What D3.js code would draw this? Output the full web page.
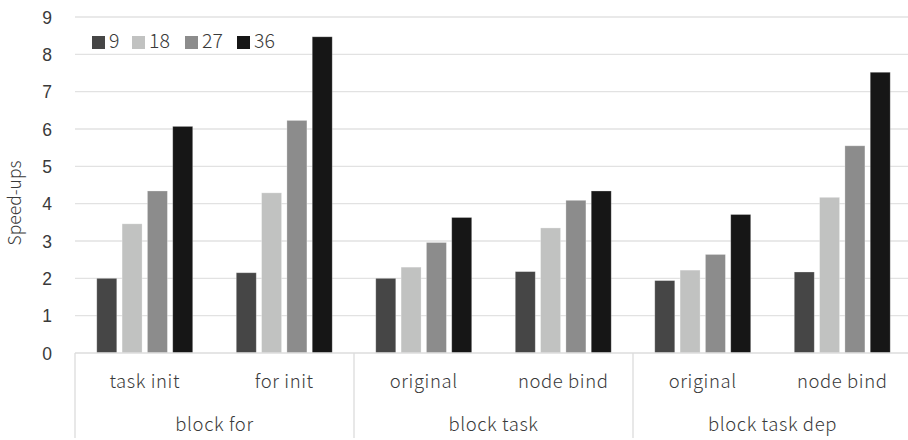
<!DOCTYPE html>
<html>
<head>
<meta charset="utf-8">
<script src="https://cdn.jsdelivr.net/npm/d3@7"></script>
<style>
  body { margin: 0; background: #fff; }
  svg { display: block; font-family: 'Noto Sans CJK JP', 'Noto Sans', sans-serif; font-weight: 300; }
  .tick text, .lbl { fill: #3a3a3a; }
</style>
</head>
<body>
<svg id="chart" width="908" height="440"></svg>
<script>
// data
const groups = ['block for', 'block task', 'block task dep']
const subCategories = ['task init', 'for init', 'original', 'node bind', 'original', 'node bind']
const subGroup = [0, 0, 1, 1, 2, 2]
const seriesNames = ['9', '18', '27', '36']
const seriesColors = ['#464646', '#c1c2c1', '#8c8c8c', '#161616']
const s9 = [2.00, 2.15, 2.00, 2.18, 1.94, 2.17]
const s18 = [3.46, 4.29, 2.30, 3.35, 2.22, 4.17]
const s27 = [4.34, 6.23, 2.96, 4.09, 2.64, 5.55]
const s36 = [6.07, 8.47, 3.63, 4.34, 3.71, 7.52]
const series = [s9, s18, s27, s36]
const yTicks = [0, 1, 2, 3, 4, 5, 6, 7, 8, 9]

const svg = d3.select('#chart')
const plotLeft = 75
const plotRight = 912
const plotTop = 17
const plotBottom = 353

const x0 = d3.scaleBand()
  .domain(d3.range(subCategories.length))
  .range([plotLeft, plotRight])
  .padding(0)

const x1 = d3.scaleBand()
  .domain(d3.range(seriesNames.length))
  .range([0, x0.bandwidth()])
  .paddingInner(0.21)
  .paddingOuter(0.86)

const y = d3.scaleLinear().domain([0, 9]).range([plotBottom, plotTop])

// gridlines
svg.append('g')
  .selectAll('line')
  .data(yTicks.slice(1))
  .enter()
  .append('line')
  .attr('x1', plotLeft)
  .attr('x2', 908)
  .attr('y1', d => y(d))
  .attr('y2', d => y(d))
  .attr('stroke', '#e2e2e2')
  .attr('stroke-width', 1.3)

// y axis
const yAxis = d3.axisLeft(y).tickValues(yTicks).tickSize(0).tickPadding(0)
const gy = svg.append('g')
  .attr('transform', 'translate(52, 0)')
  .call(yAxis)
gy.select('.domain').remove()
gy.selectAll('text')
  .attr('font-size', 17.5)
  .attr('font-family', 'inherit')
  .attr('dy', '0.36em')

svg.append('text')
  .attr('class', 'lbl')
  .attr('transform', `translate(21, ${(plotTop + plotBottom) / 2 + 18}) rotate(-90)`)
  .attr('text-anchor', 'middle')
  .attr('font-size', 17.5)
  .text('Speed-ups')

// bars
const gBars = svg.append('g')
series.forEach((vals, si) => {
  gBars.append('g')
    .selectAll('rect')
    .data(vals)
    .enter()
    .append('rect')
    .attr('x', (d, i) => x0(i) + x1(si))
    .attr('y', d => y(d))
    .attr('width', x1.bandwidth())
    .attr('height', d => y(0) - y(d))
    .attr('fill', seriesColors[si])
    .attr('stroke', '#ffffff')
    .attr('stroke-opacity', 0.35)
    .attr('stroke-width', 0.8)
})

// x axis baseline
svg.append('line')
  .attr('x1', plotLeft)
  .attr('x2', 908)
  .attr('y1', plotBottom)
  .attr('y2', plotBottom)
  .attr('stroke', '#dcdcdc')
  .attr('stroke-width', 1.5)

// group separators
const groupEdges = [0, 2, 4, 6].map(i => i < subCategories.length ? x0(i) : plotRight)
svg.append('g')
  .selectAll('line')
  .data(groupEdges)
  .enter()
  .append('line')
  .attr('x1', d => d)
  .attr('x2', d => d)
  .attr('y1', plotBottom)
  .attr('y2', 438)
  .attr('stroke', '#dcdcdc')
  .attr('stroke-width', 1.3)

// sub category labels
svg.append('g')
  .selectAll('text')
  .data(subCategories)
  .enter()
  .append('text')
  .attr('class', 'lbl')
  .attr('x', (d, i) => x0(i) + x0.bandwidth() / 2)
  .attr('y', 388)
  .attr('text-anchor', 'middle')
  .attr('font-size', 18.5)
  .attr('letter-spacing', 0.6)
  .text(d => d)

// group labels
svg.append('g')
  .selectAll('text')
  .data(groups)
  .enter()
  .append('text')
  .attr('class', 'lbl')
  .attr('x', (d, gi) => {
    const idx = subGroup.map((g, i) => g === gi ? i : -1).filter(i => i >= 0)
    return (x0(idx[0]) + x0(idx[idx.length - 1]) + x0.bandwidth()) / 2
  })
  .attr('y', 431)
  .attr('text-anchor', 'middle')
  .attr('font-size', 18.5)
  .attr('letter-spacing', 0.6)
  .text(d => d)

// legend
const legendX = [92, 132, 185, 237]
const legend = svg.append('g')
seriesNames.forEach((name, i) => {
  legend.append('rect')
    .attr('x', legendX[i])
    .attr('y', 36)
    .attr('width', 13)
    .attr('height', 13)
    .attr('fill', seriesColors[i])
  legend.append('text')
    .attr('class', 'lbl')
    .attr('x', legendX[i] + 17)
    .attr('y', 48)
    .attr('font-size', 19.5)
    .text(name)
})
</script>
</body>
</html>
